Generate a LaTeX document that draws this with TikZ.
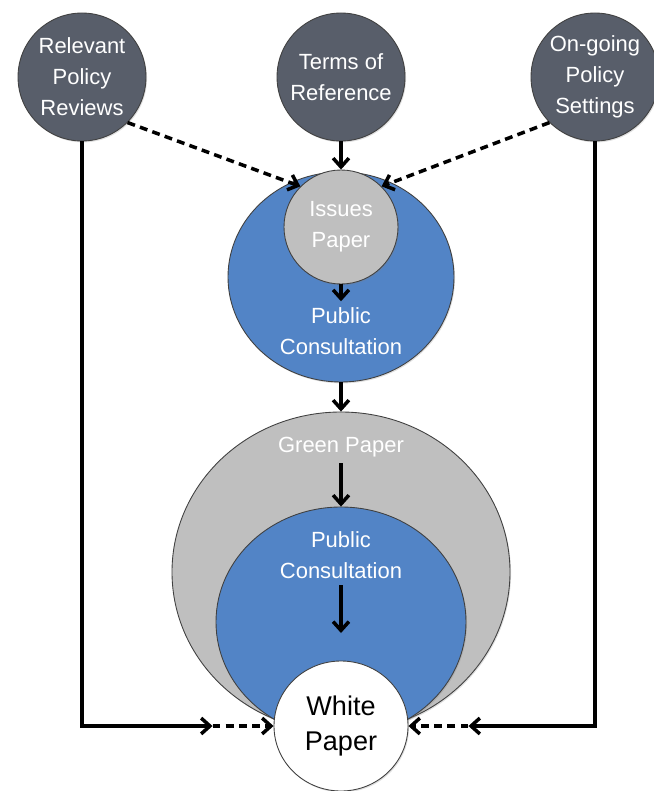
\documentclass[tikz,border=0pt]{standalone}
\usepackage{fontspec}
\setmainfont{Liberation Sans}
\definecolor{PolicySlate}{RGB}{88,94,106}
\definecolor{PolicyBlue}{RGB}{82,132,198}
\definecolor{PolicyGrey}{RGB}{191,191,191}
\usetikzlibrary{arrows.meta,positioning,shapes.geometric,shadows}

\begin{document}
\begin{tikzpicture}[font=\fontsize{12.5}{17.6}\selectfont,
  disc/.style={draw=black!75,line width=0.5pt,inner sep=0pt,align=center,
    drop shadow={opacity=0.25,shadow xshift=0.6pt,shadow yshift=-0.8pt}},
  src/.style={disc,circle,fill=PolicySlate,text=white,minimum size=2.56cm},
  stage/.style={disc,ellipse,fill=PolicyBlue},
  paper/.style={disc,ellipse,fill=PolicyGrey},
  lbl/.style={text=white,align=center},
  flow/.style={line width=2pt,-{Straight Barb[length=5pt,width=9pt]}},
  dsh/.style={dash pattern=on 4.5pt off 3pt}]
\useasboundingbox (0,0) rectangle (13.08,-15.82);
% inputs
\node[src] (rev) at (1.64,-1.54) {Relevant\\Policy\\Reviews};
\node[src] (tor) at (6.82,-1.54) {Terms of\\Reference};
\node[src] (ogp) at (11.90,-1.54) {On-going\\Policy\\Settings};
% issues paper round
\node[stage,minimum width=4.52cm,minimum height=4.20cm] (pcA) at (6.82,-5.54) {};
\node[paper,circle,minimum size=2.28cm,text=white] (issues) at (6.82,-4.54) {Issues\\Paper};
\node[lbl] (pcAtxt) at (6.82,-6.62) {Public\\Consultation};
% green paper round
\node[paper,minimum width=6.76cm,minimum height=6.40cm] (green) at (6.82,-11.44) {};
\node[stage,minimum width=5.00cm,minimum height=4.60cm] (pcB) at (6.82,-12.44) {};
\node[lbl] (greentxt) at (6.82,-8.94) {Green Paper};
\node[lbl] (pcBtxt) at (6.82,-11.11) {Public\\Consultation};
\coordinate (pcBend) at (6.82,-12.66);
% white paper
\node[paper,fill=white,minimum width=2.68cm,minimum height=2.60cm,
  font=\fontsize{15.4}{19.9}\selectfont] (white) at (6.82,-14.52) {White\\Paper};
\coordinate[left=1.22cm of white.west] (lm);
\coordinate[right=1.2cm of white.east] (rm);
% connectors
\draw[flow] (tor) -- (issues);
\draw[flow,dsh] (rev.south east) -- (issues.north west);
\draw[flow,dsh] (ogp.south west) -- (issues.north east);
\draw[flow] (issues) -- (pcAtxt);
\draw[flow] (pcA) -- (green);
\draw[flow] (greentxt) -- (pcB);
\draw[flow] (pcBtxt) -- (pcBend);
\draw[flow] (rev.south) |- (lm);
\draw[flow,dsh] (lm) -- (white.west);
\draw[flow] (ogp.south) |- (rm);
\draw[flow,dsh] (rm) -- (white.east);
\end{tikzpicture}
\end{document}
